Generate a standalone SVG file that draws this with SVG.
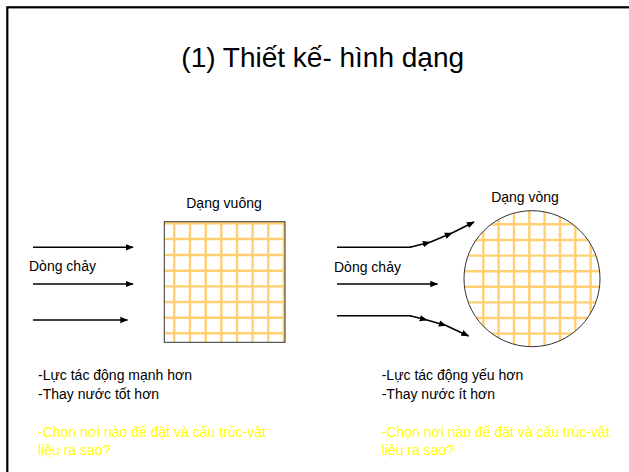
<svg xmlns="http://www.w3.org/2000/svg" width="629" height="472" viewBox="0 0 629 472">
<style>
text{font-family:"Liberation Sans",Arial,sans-serif;fill:#000}
.s{font-size:14px}
.y{fill:#FFFF00}
.g{stroke:#FFC75A;stroke-width:2.4;fill:none;opacity:0.85}
.a{stroke:#000;stroke-width:1.6;fill:none}
.ah{marker-end:url(#arr)}
</style>
<defs>
<marker id="arr" viewBox="0 0 10 10" refX="9" refY="5" markerWidth="8" markerHeight="8" markerUnits="userSpaceOnUse" orient="auto">
<path d="M0,1 L10,5 L0,9 Z" fill="#000"/>
</marker>
<clipPath id="cc"><circle cx="532" cy="278.7" r="68"/></clipPath>
</defs>
<rect x="0" y="0" width="629" height="472" fill="#fff"/>
<rect x="7.3" y="7.3" width="700" height="600" fill="none" stroke="#000" stroke-width="2.2"/>
<g id="title"><text x="322.7" y="67" font-size="28" text-anchor="middle">(1) Thiết kế- hình dạng</text></g>
<g id="square">
<text class="s" x="224" y="208" text-anchor="middle">Dạng vuông</text>
<rect x="164.3" y="221.7" width="120.7" height="120.6" fill="#fff"/>
<g class="g">
<path d="M174.3,221.7V342.3M190,221.7V342.3M205.7,221.7V342.3M221.3,221.7V342.3M237,221.7V342.3M252.6,221.7V342.3M268.3,221.7V342.3M283.9,221.7V342.3"/>
<path d="M164.3,223.3H285M164.3,239H285M164.3,255H285M164.3,270.7H285M164.3,286.4H285M164.3,302H285M164.3,317.7H285M164.3,333.3H285"/>
</g>
<rect x="164.3" y="221.7" width="120.7" height="120.6" fill="none" stroke="#333" stroke-width="1"/>
</g>
<g id="circle">
<text class="s" x="525" y="202" text-anchor="middle">Dạng vòng</text>
<circle cx="532" cy="278.7" r="68" fill="#fff"/>
<g class="g" clip-path="url(#cc)">
<path d="M483.3,200V360M498.6,200V360M514,200V360M529.3,200V360M544.6,200V360M560,200V360M575.3,200V360M590.6,200V360"/>
<path d="M460,224.3H610M460,240H610M460,255.6H610M460,271.2H610M460,286.8H610M460,302.4H610M460,318H610M460,333.6H610"/>
</g>
<circle cx="532" cy="278.7" r="68" fill="none" stroke="#333" stroke-width="1"/>
</g>
<g id="flow-left"><text class="s" x="29" y="271">Dòng chảy</text></g>
<g id="flow-right"><text class="s" x="334" y="272">Dòng chảy</text></g>
<g id="connectors">
<line class="a ah" x1="33" y1="247.3" x2="133" y2="247.3"/>
<line class="a ah" x1="33" y1="284" x2="133" y2="284"/>
<line class="a ah" x1="33" y1="320" x2="127.5" y2="320"/>
<line class="a" x1="337" y1="247.3" x2="411" y2="247.3"/>
<line class="a ah" x1="410" y1="247.3" x2="430" y2="242.3"/>
<line class="a ah" x1="430" y1="242.3" x2="452" y2="233"/>
<line class="a ah" x1="452" y1="233" x2="474" y2="222"/>
<line class="a ah" x1="337" y1="284" x2="437.5" y2="284"/>
<line class="a" x1="337" y1="315.7" x2="411" y2="315.7"/>
<line class="a ah" x1="410" y1="315.7" x2="427" y2="320"/>
<line class="a ah" x1="427" y1="320" x2="446" y2="325.5"/>
<line class="a ah" x1="446" y1="325.5" x2="468.5" y2="336"/>
</g>
<g id="notes-left">
<text class="s" x="38" y="380">-Lực tác động mạnh hơn</text>
<text class="s" x="38" y="399.3">-Thay nước tốt hơn</text>
<text class="s y" x="38" y="436.7">-Chọn nơi nào để đặt và cấu trúc-vật</text>
<text class="s y" x="38" y="455">liệu ra sao?</text>
</g>
<g id="notes-right">
<text class="s" x="381.7" y="380">-Lực tác động yếu hơn</text>
<text class="s" x="381.7" y="399.3">-Thay nước ít hơn</text>
<text class="s y" x="381.7" y="436.7">-Chọn nơi nào để đặt và cấu trúc-vật</text>
<text class="s y" x="381.7" y="455">liệu ra sao?</text>
</g>
</svg>
